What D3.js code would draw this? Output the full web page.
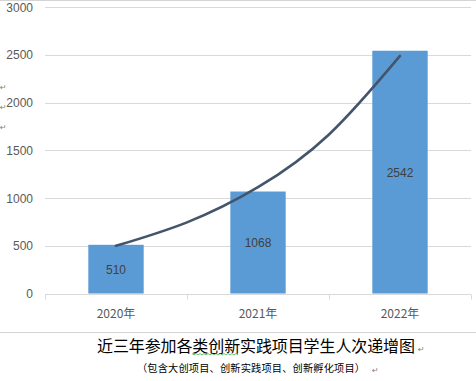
<!DOCTYPE html>
<html><head><meta charset="utf-8">
<script src="https://cdn.jsdelivr.net/npm/d3@7"></script>
<style>body{margin:0;background:#fff}svg{display:block}</style>
</head><body>
<script>
const categories = ["2020年", "2021年", "2022年"];
const values = [510, 1068, 2542];
const yTicks = [0, 500, 1000, 1500, 2000, 2500, 3000];
// trend line values at category positions 0, 0.5, 1, 1.5, 2
const trendPos = [0, 0.5, 1, 1.5, 2];
const trendValues = [499, 745, 1113, 1665, 2488];
const title = "近三年参加各类创新实践项目学生人次递增图";
const subtitle = "（包含大创项目、创新实践项目、创新孵化项目）";

(function () {
const W = 476, H = 381;
const svg = d3.select("body").append("svg").attr("width", W).attr("height", H);
const font = "'Noto Sans CJK SC','Microsoft YaHei',sans-serif";
const numFont = "'Liberation Sans',Arial,sans-serif";

const pL = 45, pR = 471, pT = 7, pB = 293.5;
const x = d3.scaleBand().domain(categories).range([pL, pR]).padding(0);
const y = d3.scaleLinear().domain([0, 3000]).range([pB, pT]);
const barW = x.bandwidth() * 0.39;
const cx = i => x(categories[0]) + x.bandwidth() / 2 + i * x.step();

// border lines
svg.append("line").attr("x1", 0).attr("x2", W).attr("y1", 0.5).attr("y2", 0.5).attr("stroke", "#d4d4d4");
svg.append("line").attr("x1", 0).attr("x2", W).attr("y1", 332.5).attr("y2", 332.5).attr("stroke", "#d4d4d4");

// grid
svg.append("g").selectAll("line").data(yTicks.filter(d => d > 0)).join("line")
  .attr("x1", pL).attr("x2", pR)
  .attr("y1", d => Math.round(y(d)) + 0.5).attr("y2", d => Math.round(y(d)) + 0.5)
  .attr("stroke", "#d9d9d9");

// y labels
svg.append("g").selectAll("text").data(yTicks).join("text")
  .attr("x", 33).attr("y", d => y(d) + 4.5)
  .attr("text-anchor", "end").attr("font-family", numFont).attr("font-size", 12)
  .attr("fill", "#595959").text(d => d);

// bars
svg.append("g").selectAll("rect").data(values).join("rect")
  .attr("x", (d, i) => cx(i) - barW / 2).attr("width", barW)
  .attr("y", d => y(d)).attr("height", d => y(0) - y(d))
  .attr("fill", "#5b9bd5");

// x axis
const xAxis = svg.append("g").attr("transform", `translate(0,${Math.round(pB) + 0.5})`);
xAxis.append("line").attr("x1", pL).attr("x2", pR).attr("stroke", "#d9d9d9");
const bounds = categories.map(c => x(c)).concat([x(categories[categories.length - 1]) + x.bandwidth()]);
xAxis.selectAll("line.t").data(bounds).join("line").attr("class", "t")
  .attr("x1", d => Math.round(d) + 0.5).attr("x2", d => Math.round(d) + 0.5)
  .attr("y1", 0).attr("y2", 5).attr("stroke", "#d9d9d9");
svg.append("g").selectAll("text").data(categories).join("text")
  .attr("x", (d, i) => cx(i)).attr("y", 317.5)
  .attr("text-anchor", "middle").attr("font-family", font).attr("font-size", 12)
  .attr("fill", "#595959").text(d => d);

// data labels
svg.append("g").selectAll("text").data(values).join("text")
  .attr("x", (d, i) => cx(i)).attr("y", d => (y(d) + y(0)) / 2 + 4.5)
  .attr("text-anchor", "middle").attr("font-family", numFont).attr("font-size", 12)
  .attr("fill", "#404040").text(d => d);

// trend line
const line = d3.line().x((d, i) => cx(trendPos[i])).y(d => y(d)).curve(d3.curveNatural);
svg.append("path").datum(trendValues).attr("d", line)
  .attr("fill", "none").attr("stroke", "#44546a").attr("stroke-width", 2.6)
  .attr("stroke-linecap", "round");

// title
svg.append("text").attr("x", 97).attr("y", 352)
  .attr("textLength", 318).attr("lengthAdjust", "spacing")
  .attr("font-family", font).attr("font-size", 16).attr("fill", "#000").text(title);
svg.append("text").attr("x", 137).attr("y", 372)
  .attr("textLength", 228).attr("lengthAdjust", "spacing")
  .attr("font-family", font).attr("font-size", 10.2).attr("fill", "#000").text(subtitle);

// spellcheck wavy underline under 类创新
const wx0 = 192, wx1 = 238, wy = 353.5;
let wp = `M${wx0},${wy}`;
for (let xx = wx0, k = 0; xx < wx1; xx += 2, k++) wp += `L${xx + 2},${wy + (k % 2 ? 0 : 1.5)}`;
svg.append("path").attr("d", wp).attr("fill", "none").attr("stroke", "#3cb043").attr("stroke-width", 0.8);

// paragraph marks
const marks = [[0, 90], [0, 110], [0, 130], [418, 352], [372, 373]];
svg.append("g").selectAll("text").data(marks).join("text")
  .attr("x", d => d[0]).attr("y", d => d[1])
  .attr("font-family", "'DejaVu Sans',sans-serif").attr("font-size", 8)
  .attr("fill", "#7f7f7f").text("↵");
})();
</script>
</body></html>
